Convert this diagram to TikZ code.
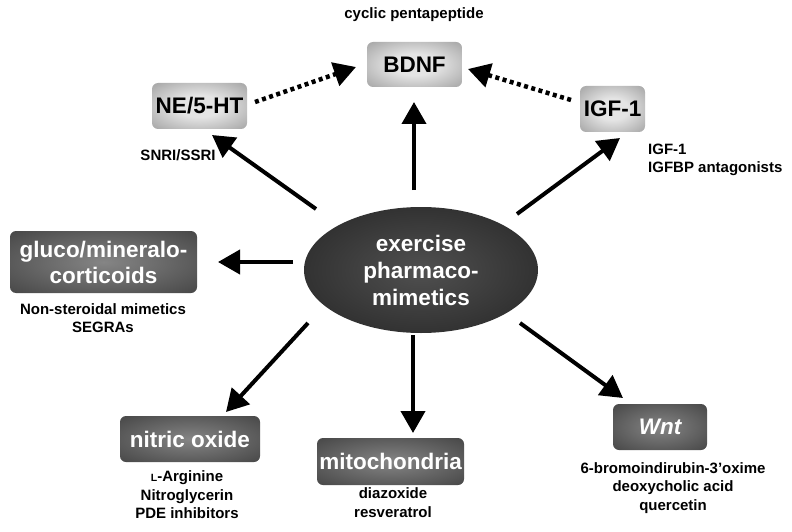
\documentclass[tikz,border=0pt]{standalone}
\usepackage{fontspec}
\setmainfont{Liberation Sans}
\usetikzlibrary{arrows.meta,shapes.geometric}
\definecolor{lin}{HTML}{E4E4E4}
\definecolor{lout}{HTML}{7E7E7E}
\definecolor{din}{HTML}{858585}
\definecolor{dout}{HTML}{2E2E2E}
\definecolor{ein}{HTML}{505050}
\definecolor{eout}{HTML}{1A1A1A}
\pgfdeclareradialshading{lightshade}{\pgfpoint{0bp}{0bp}}{color(0bp)=(lin); color(12bp)=(lin); color(50bp)=(lout); color(75bp)=(lout)}
\pgfdeclareradialshading{darkshade}{\pgfpoint{0bp}{0bp}}{color(0bp)=(din); color(50bp)=(dout); color(75bp)=(dout)}
\pgfdeclareradialshading{ellshade}{\pgfpoint{0bp}{0bp}}{color(0bp)=(ein); color(45bp)=(eout); color(75bp)=(eout)}
\begin{document}
\begin{tikzpicture}[x=1pt,y=-1pt,
  boxbase/.style={rectangle, rounded corners=6pt, inner sep=0pt,
    font=\fontsize{22.5}{26}\selectfont\bfseries, align=center},
  lbox/.style={boxbase, shading=lightshade, text=black},
  dbox/.style={boxbase, shading=darkshade, text=white},
  small/.style={font=\fontsize{15}{18.5}\selectfont\bfseries, align=center, inner sep=0pt},
  arr/.style={line width=4pt, -{Triangle[length=22pt,width=24pt]}},
  darr/.style={line width=4.5pt, dash pattern=on 4pt off 3.5pt, -{Triangle[length=22pt,width=24pt]}}
]
\useasboundingbox (0,0) rectangle (792,532);
% main nodes
\node[ellipse, shading=ellshade, minimum width=234pt, minimum height=126pt, inner sep=0pt,
      text=white, font=\fontsize{22.5}{27}\selectfont\bfseries, align=center]
      (ell) at (421,270) {exercise\\pharmaco-\\mimetics};
\node[lbox, minimum width=95pt, minimum height=45pt] (bdnf) at (414.5,64.5) {BDNF};
\node[lbox, minimum width=95pt, minimum height=46pt] (ne) at (199.5,106) {NE/5-HT};
\node[lbox, minimum width=65pt, minimum height=46pt] (igf) at (612.5,109) {IGF-1};
\node[dbox, minimum width=187pt, minimum height=62pt] (gluco) at (103.5,262) {gluco/mineralo-\\corticoids};
\node[dbox, minimum width=140pt, minimum height=46pt] (nitric) at (190,439) {nitric oxide};
\node[dbox, minimum width=147pt, minimum height=47pt] (mito) at (390.5,461.5) {mitochondria};
\node[dbox, minimum width=94pt, minimum height=46pt] (wnt) at (660,427) {\itshape Wnt};
% labels
\node[small] (cyc) at (414,15) {cyclic pentapeptide};
\node[small] (snri) at (178,155) {SNRI/SSRI};
\node[small, align=left, anchor=west] (igft) at (648,160) {IGF-1\\IGFBP antagonists};
\node[small] (nonst) at (103,318) {Non-steroidal mimetics\\SEGRAs};
\node[small] (larg) at (187,495) {{\fontsize{10.5}{10.5}\selectfont L}-Arginine\\Nitroglycerin\\PDE inhibitors};
\node[small] (diaz) at (393,502.5) {diazoxide\\resveratrol};
\node[small] (bromo) at (673,488) {6-bromoindirubin-3'oxime\\deoxycholic acid\\quercetin};
% connector end points
\coordinate (sup) at (414,190);   \coordinate (eup) at (414,102);
\coordinate (sne) at (316,209);   \coordinate (ene) at (212,135);
\coordinate (sigf) at (517,214);  \coordinate (eigf) at (620,138);
\coordinate (sgl) at (293,262);   \coordinate (egl) at (218,262);
\coordinate (sno) at (308,323);   \coordinate (eno) at (226,412);
\coordinate (smi) at (413,335);   \coordinate (emi) at (413,433);
\coordinate (swn) at (520,323);   \coordinate (ewn) at (623,398);
\coordinate (sd1) at (255,102);   \coordinate (ed1) at (356,67);
\coordinate (sd2) at (571,100);   \coordinate (ed2) at (468,69);
% connectors
\draw[arr] (sup) -- (eup);
\draw[arr] (sne) -- (ene);
\draw[arr] (sigf) -- (eigf);
\draw[arr] (sgl) -- (egl);
\draw[arr] (sno) -- (eno);
\draw[arr] (smi) -- (emi);
\draw[arr] (swn) -- (ewn);
\draw[darr] (sd1) -- (ed1);
\draw[darr] (sd2) -- (ed2);
\end{tikzpicture}
\end{document}
